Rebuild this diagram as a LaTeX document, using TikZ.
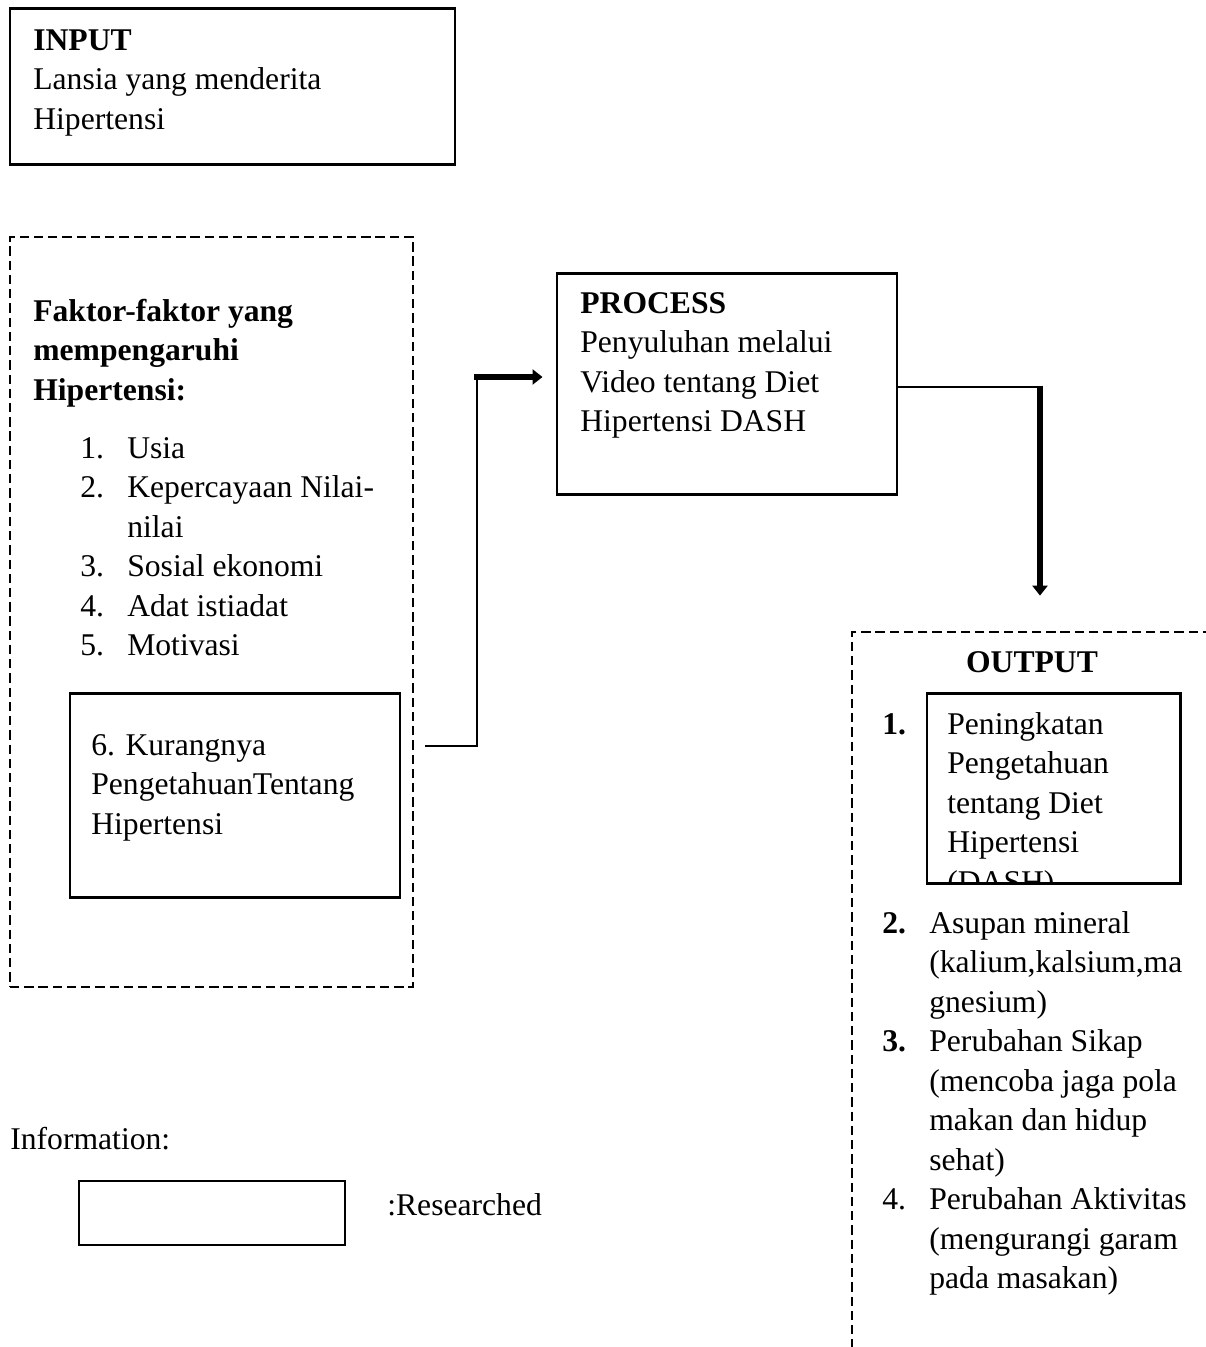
\documentclass[tikz,border=0pt]{standalone}
\usepackage{fontspec}
\setmainfont{Liberation Serif}
\usetikzlibrary{positioning, arrows.meta, fit}

\begin{document}
\begin{tikzpicture}[
    x=0.02cm, y=-0.02cm,
    box/.style = {draw, line width=1.7pt, inner sep=0pt},
    dashbox/.style = {draw, line width=1.6pt, dash pattern=on 5.3pt off 2.8pt, inner sep=0pt},
    txt/.style = {anchor=north west, inner sep=0pt, align=left,
    font=\fontsize{18pt}{22.48pt}\selectfont},
    line/.style={draw, line width=0.8pt},
    fatarrow/.style={draw, line width=3.9pt, -{Triangle[width=0.3cm, length=0.2cm]}}]

    \useasboundingbox (0,0) rectangle (1206,1347);
    \clip (0,0) rectangle (1206,1347);

    % input
    \node[box, fit={(10,8) (455,164)}] (input) {};
    \node[txt] (inputtxt) at (33,22.3) {\strut\textbf{INPUT}\\Lansia yang menderita\\Hipertensi};

    % faktor
    \node[dashbox, fit={(10,237) (413,987)}] (faktor) {};
    \node[txt] (faktortxt) at (33,293.3) {\strut\textbf{Faktor-faktor yang}\\\textbf{mempengaruhi}\\\textbf{Hipertensi:}};
    \node[txt] (faktorlist) at (80,430.3) {\begin{tabular}{@{}p{0.94cm}@{}l@{}}
        1. & Usia\\
        2. & Kepercayaan Nilai-\\
           & nilai\\
        3. & Sosial ekonomi\\
        4. & Adat istiadat\\
        5. & Motivasi
      \end{tabular}};
    \node[box, fit={(70,693) (400,897)}] (kurang) {};
    \node[txt] (kurangtxt) at (91,727.3) {\strut 6. Kurangnya\\PengetahuanTentang\\Hipertensi};

    % process
    \node[box, fit={(557,273) (897,494)}] (process) {};
    \node[txt] (processtxt) at (580,285.3) {\strut\textbf{PROCESS}\\Penyuluhan melalui\\Video tentang Diet\\Hipertensi DASH};

    % output
    \node[dashbox, fit={(852,632) (1260,1400)}] (output) {};
    \node[anchor=base, inner sep=0pt, font=\fontsize{18pt}{22.48pt}\selectfont\bfseries] (outputlabel) at (1032,672) {OUTPUT};
    \node[txt, font=\fontsize{18pt}{22.48pt}\selectfont\bfseries] (onenum) at (882,706.3) {\strut 1.};
    \node[box, fit={(927,693) (1180,883)}] (knowledge) {};
    \begin{scope}
      \clip (927,693) rectangle (1180,883);
      \node[txt] (knowledgetxt) at (947,706.3) {\strut Peningkatan\\Pengetahuan\\tentang Diet\\Hipertensi\\(DASH)};
    \end{scope}
    \node[txt] (outputlist) at (882,905.3) {\begin{tabular}{@{}p{0.94cm}@{}l@{}}
        \textbf{2.} & Asupan mineral\\
           & (kalium,kalsium,ma\\
           & gnesium)\\
        \textbf{3.} & Perubahan Sikap\\
           & (mencoba jaga pola\\
           & makan dan hidup\\
           & sehat)\\
        4. & Perubahan Aktivitas\\
           & (mengurangi garam\\
           & pada masakan)
      \end{tabular}};

    % legend
    \node[txt] (info) at (10,1121.3) {\strut Information:};
    \node[box, line width=1.5pt, fit={(79,1181) (345,1245)}] (legendbox) {};
    \node[txt] (legendtxt) at (387,1187.3) {\strut :Researched};

    % connectors
    \coordinate (bendlow) at (477,746);
    \coordinate (bendtop) at (477,377);
    \coordinate (bendright) at (1040,387);

    \draw[line, shorten <=0.48cm] (kurang.east |- bendlow) -- (bendlow) -- (bendtop);
    \draw[fatarrow, shorten <=-0.06cm, shorten >=0.26cm] (bendtop) -- (bendtop -| process.west);
    \draw[line] (process.east |- bendright) -- (bendright);
    \draw[fatarrow, shorten >=0.7cm] ([yshift=0.03cm]bendright) -- (bendright |- output.north);
\end{tikzpicture}
\end{document}
